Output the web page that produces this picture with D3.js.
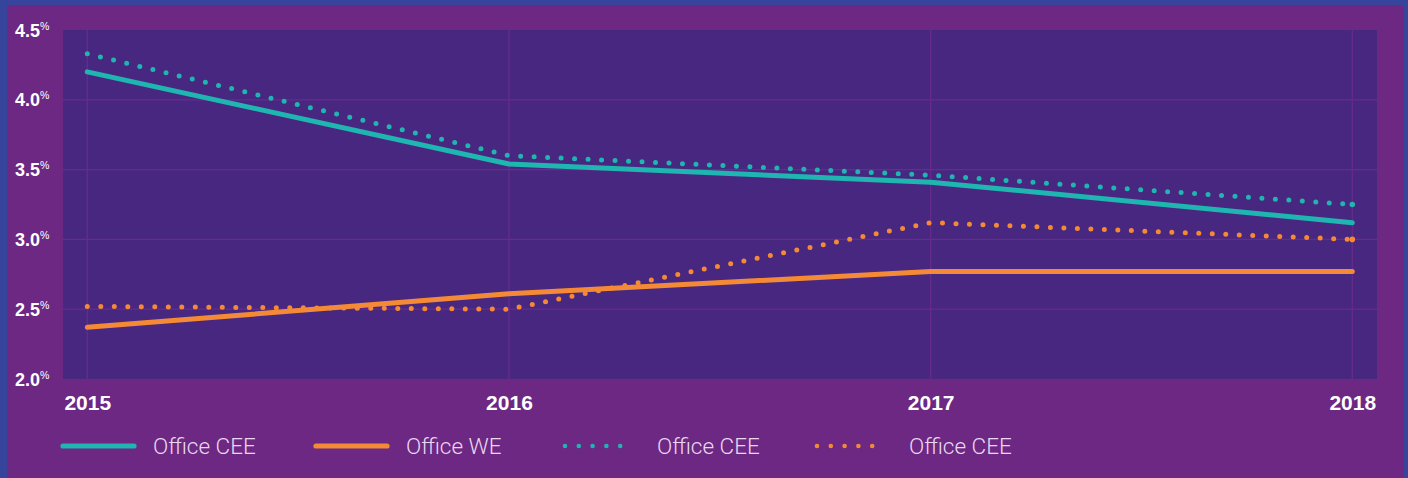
<!DOCTYPE html>
<html>
<head>
<meta charset="utf-8">
<script src="https://cdn.jsdelivr.net/npm/d3@7/dist/d3.min.js"></script>
<style>
html,body{margin:0;padding:0;background:#37449b;}
svg{display:block;}
</style>
</head>
<body>
<svg id="chart" width="1408" height="478"></svg>
<script>
const years = [2015, 2016, 2017, 2018];
const officeCEE = [4.20, 3.54, 3.41, 3.12];
const officeWE = [2.37, 2.61, 2.77, 2.77];
const officeCEEDotted = [4.33, 3.60, 3.46, 3.25];
const officeCEEDotted2 = [2.52, 2.50, 3.12, 3.00];
const yTicks = [2.0, 2.5, 3.0, 3.5, 4.0, 4.5];
const legendLabels = ["Office CEE", "Office WE", "Office CEE", "Office CEE"];

const W = 1408, H = 478;
const TEAL = "#1fb6b1", ORANGE = "#f48a36";
const svg = d3.select("#chart");

// backgrounds
svg.append("rect").attr("x", 0).attr("y", 0).attr("width", W).attr("height", H).attr("fill", "#37449b");
svg.append("rect").attr("x", 7).attr("y", 5).attr("width", 1397).attr("height", H - 5).attr("fill", "#6c2883");

const plot = {left: 63, right: 1377, top: 30, bottom: 379};
svg.append("rect").attr("x", plot.left).attr("y", plot.top)
  .attr("width", plot.right - plot.left).attr("height", plot.bottom - plot.top)
  .attr("fill", "#482781");

const x = d3.scaleLinear().domain([2015, 2018]).range([87.3, 1352.3]);
const y = d3.scaleLinear().domain([2.0, 4.5]).range([plot.bottom, plot.top]);

// gridlines
const grid = svg.append("g").attr("stroke", "#682b8b").attr("stroke-width", 1.2);
yTicks.filter(v => v > 2.0 && v < 4.5).forEach(v => {
  grid.append("line").attr("x1", plot.left).attr("x2", plot.right)
    .attr("y1", y(v)).attr("y2", y(v));
});
years.forEach(v => {
  grid.append("line").attr("y1", plot.top).attr("y2", plot.bottom)
    .attr("x1", x(v)).attr("x2", x(v));
});

// y axis labels
const yAxis = d3.axisLeft(y).tickValues(yTicks).tickSize(0).tickPadding(0).tickFormat(d3.format(".1f"));
const yg = svg.append("g").attr("transform", `translate(15,0)`).call(yAxis);
yg.select(".domain").remove();
yg.selectAll(".tick text")
  .attr("x", 0).attr("dy", null).attr("y", 6)
  .attr("text-anchor", "start")
  .attr("fill", "#ffffff")
  .style("font-family", "'Liberation Sans', Arial, sans-serif")
  .style("font-weight", "bold")
  .style("font-size", "18px")
  .each(function(d) {
    const t = d3.select(this);
    t.text(d3.format(".1f")(d));
    t.append("tspan").attr("dy", -7).style("font-size", "10.5px").style("font-weight", "normal").text("%");
  });

// x axis labels
const xAxis = d3.axisBottom(x).tickValues(years).tickSize(0).tickPadding(0).tickFormat(d3.format("d"));
const xg = svg.append("g").attr("transform", `translate(0,${plot.bottom})`).call(xAxis);
xg.select(".domain").remove();
xg.selectAll(".tick text")
  .attr("y", 31).attr("dy", null)
  .attr("fill", "#ffffff")
  .style("font-family", "'Liberation Sans', Arial, sans-serif")
  .style("font-weight", "bold")
  .style("font-size", "21px");

// lines
const lineLinear = d3.line().x((d, i) => x(years[i])).y(d => y(d));

const series = [
  {data: officeCEEDotted, color: TEAL, dotted: true},
  {data: officeCEEDotted2, color: ORANGE, dotted: true},
  {data: officeWE, color: ORANGE, dotted: false},
  {data: officeCEE, color: TEAL, dotted: false},
];
series.forEach(s => {
  const p = svg.append("path").attr("d", lineLinear(s.data))
    .attr("fill", "none").attr("stroke", s.color)
    .attr("stroke-width", 5).attr("stroke-linecap", "round").attr("stroke-linejoin", "round");
  if (s.dotted) {
    p.attr("stroke-dasharray", "0 13.5");
    svg.append("circle").attr("cx", x(years[3])).attr("cy", y(s.data[3])).attr("r", 2.8).attr("fill", s.color);
  }
});

// legend
const legendItems = [
  {color: TEAL, dotted: false},
  {color: ORANGE, dotted: false},
  {color: TEAL, dotted: true},
  {color: ORANGE, dotted: true},
];
const legendX = [61, 314, 565, 817];
const ly = 446;
legendItems.forEach((it, i) => {
  const g = svg.append("g").attr("transform", `translate(${legendX[i]},${ly})`);
  if (it.dotted) {
    g.append("line").attr("x1", 0).attr("x2", 69).attr("y1", 0).attr("y2", 0)
      .attr("stroke", it.color).attr("stroke-width", 4.6).attr("stroke-linecap", "round")
      .attr("stroke-dasharray", "0 13.8");
  } else {
    g.append("line").attr("x1", 2).attr("x2", 73).attr("y1", 0).attr("y2", 0)
      .attr("stroke", it.color).attr("stroke-width", 5.2).attr("stroke-linecap", "round");
  }
  g.append("text").attr("x", 92).attr("y", 7.5)
    .attr("fill", "#ead8f0")
    .style("font-family", "Roboto, 'Liberation Sans', sans-serif")
    .style("font-weight", "300")
    .style("font-size", "22.5px")
    .text(legendLabels[i]);
});
</script>
</body>
</html>
